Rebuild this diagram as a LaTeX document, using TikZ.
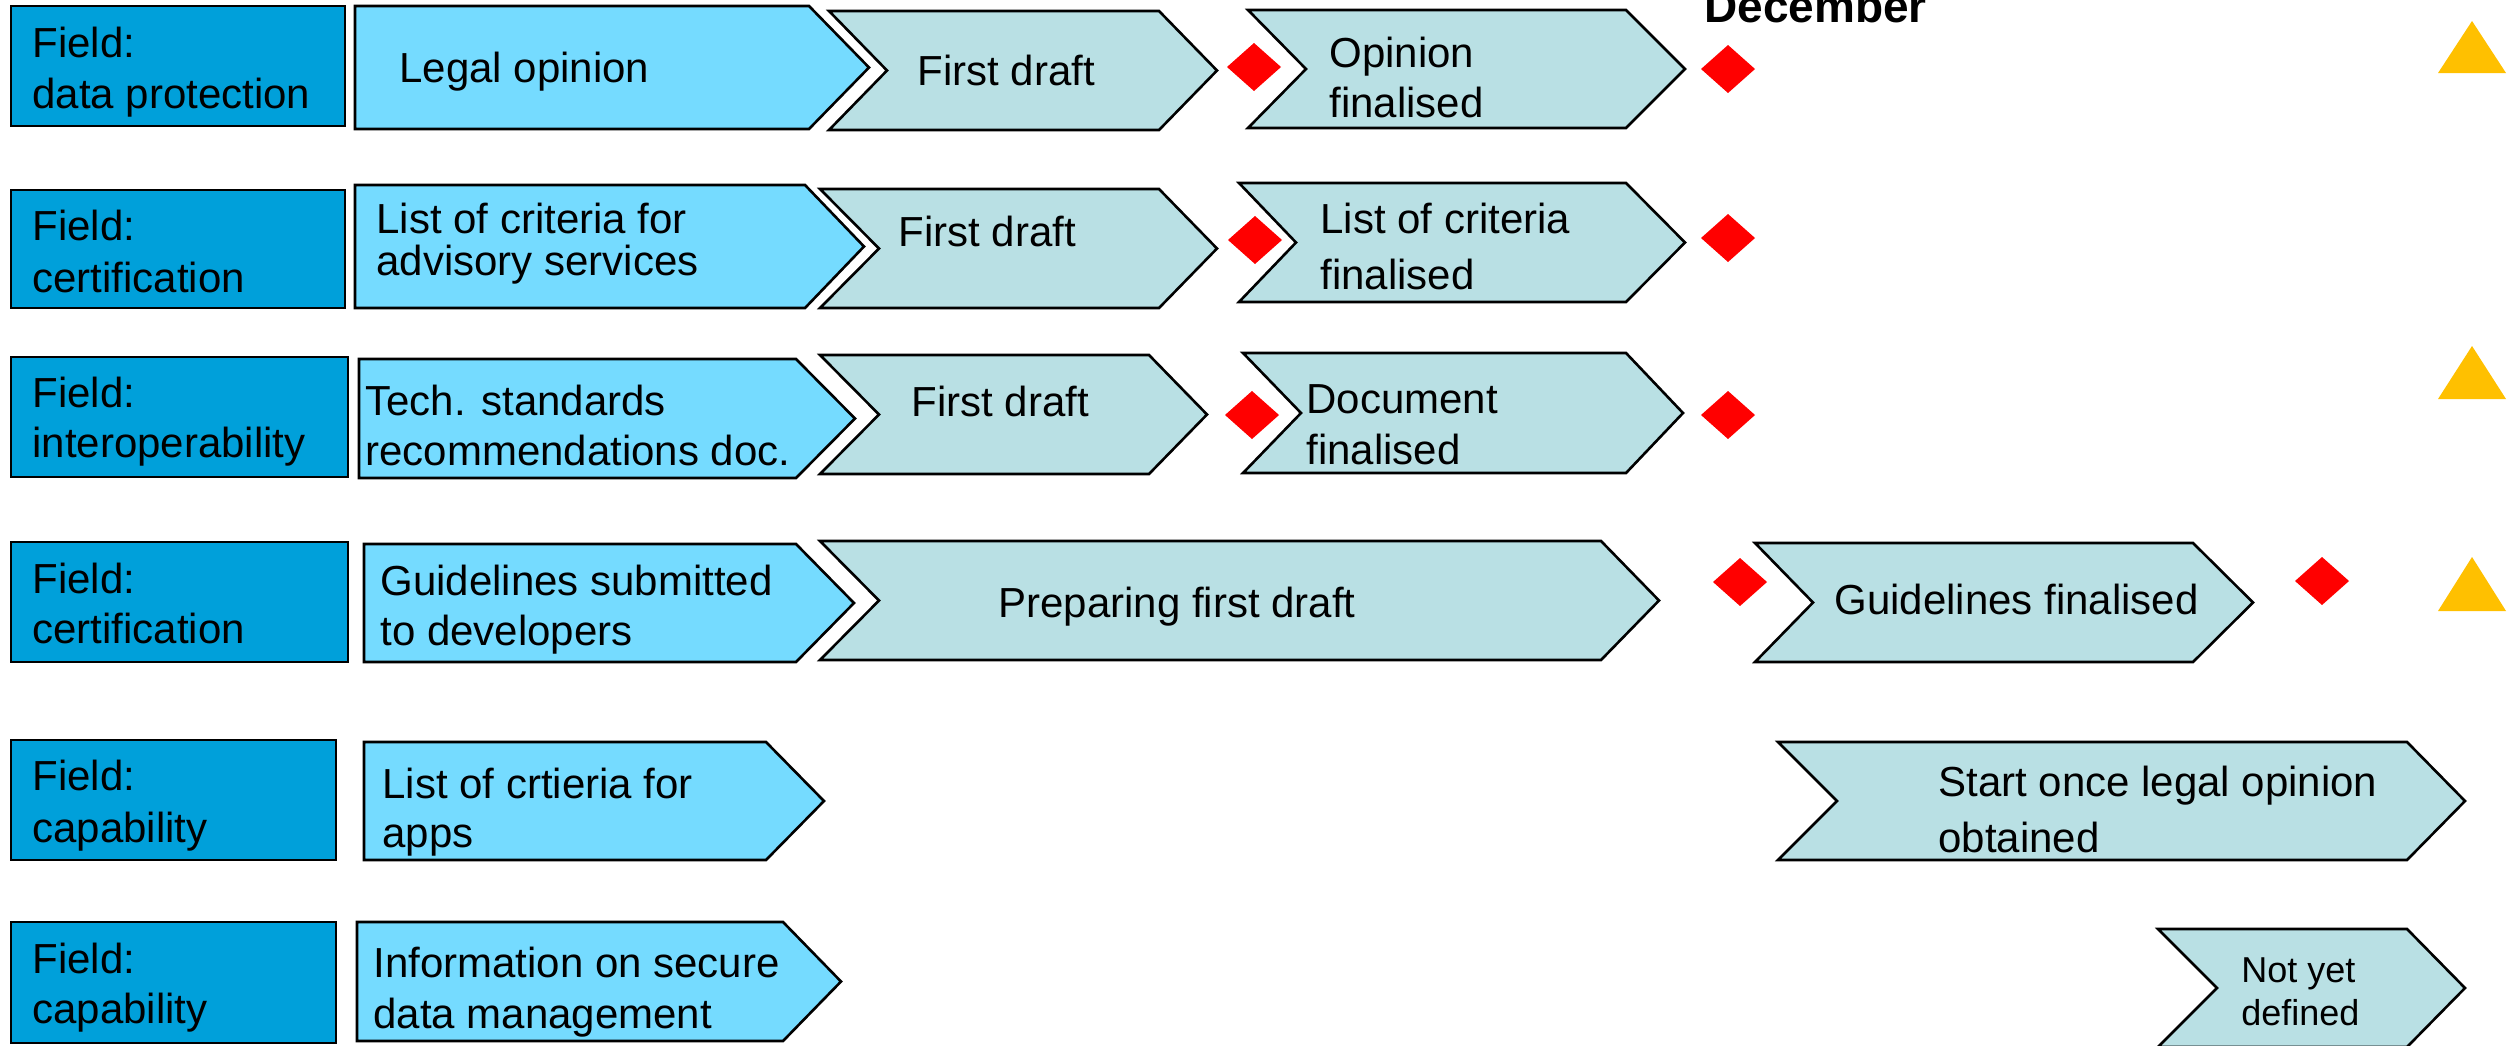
\documentclass[tikz,border=0pt]{standalone}
\usepackage{fontspec}
\setmainfont{Liberation Sans}
\definecolor{fieldblue}{RGB}{0,160,218}
\definecolor{lightblue}{RGB}{117,219,255}
\definecolor{paleteal}{RGB}{185,224,228}
\definecolor{goldyellow}{RGB}{255,192,0}
\tikzset{
  fieldbox/.style={draw=black, line width=1.3pt, fill=fieldblue},
  startchev/.style={draw=black, line width=1.3pt, fill=lightblue, line join=miter},
  phasechev/.style={draw=black, line width=1.3pt, fill=paleteal, line join=miter},
  milestone/.style={fill=red},
  goal/.style={fill=goldyellow},
  lbl/.style={anchor=base west, inner sep=0pt, font=\fontsize{21}{26}\selectfont},
  smalllbl/.style={anchor=base west, inner sep=0pt, font=\fontsize{18}{22}\selectfont},
  titlelbl/.style={anchor=base west, inner sep=0pt, font=\fontsize{23}{28}\selectfont\bfseries},
}
% x1 = left, x2 = flat end, x3 = tip, y top, y bottom
\newcommand\homeplate[5]{%
  \draw[startchev] (#1,#4) -- (#2,#4) -- (#3,{(#4+#5)/2}) -- (#2,#5) -- (#1,#5) -- cycle;}
% xleft, xnotch, xflat, xtip, ytop, ybottom
\newcommand\phasechevron[6]{%
  \draw[phasechev] (#1,#5) -- (#3,#5) -- (#4,{(#5+#6)/2}) -- (#3,#6) -- (#1,#6) -- (#2,{(#5+#6)/2}) -- cycle;}
\newcommand\milestonemark[2]{%
  \fill[milestone] ({#1-27},#2) -- (#1,{#2-24}) -- ({#1+27},#2) -- (#1,{#2+24}) -- cycle;}
\newcommand\goalmark[3]{%
  \fill[goal] (#1,#3) -- ({#1+68},#3) -- ({#1+34},#2) -- cycle;}
\begin{document}
\begin{tikzpicture}[x=0.5pt,y=-0.5pt]
\useasboundingbox (0,0) rectangle (2509,1045);
\clip (0,0) rectangle (2509,1045);
\fill[white] (0,0) rectangle (2509,1045);

% ---------- Row 1 ----------
\draw[fieldbox] (11,6) rectangle (345,126);
\homeplate{355}{809}{869}{6}{129}
\phasechevron{829}{887}{1159}{1217}{11}{130}
\milestonemark{1254}{67}
\phasechevron{1248}{1306}{1626}{1685}{10}{128}
\milestonemark{1728}{69}
\goalmark{2438}{21}{73}
\node[lbl] (f1a) at (32,57) {Field:};
\node[lbl] (f1b) at (32,108) {data protection};
\node[lbl] (s1) at (399,82) {Legal opinion};
\node[lbl] (p1a) at (917,85) {First draft};
\node[lbl] (p1b) at (1329,67) {Opinion};
\node[lbl] (p1c) at (1329,117) {finalised};
\node[titlelbl] (dec) at (1704,22) {December};

% ---------- Row 2 ----------
\draw[fieldbox] (11,190) rectangle (345,308);
\homeplate{355}{805}{864}{185}{308}
\phasechevron{820}{879}{1159}{1217}{189}{308}
\milestonemark{1255}{240}
\phasechevron{1239}{1296}{1626}{1685}{183}{302}
\milestonemark{1728}{238}
\node[lbl] (f2a) at (32,240) {Field:};
\node[lbl] (f2b) at (32,292) {certification};
\node[lbl] (s2a) at (376,233) {List of criteria for};
\node[lbl] (s2b) at (376,275) {advisory services};
\node[lbl] (p2a) at (898,246) {First draft};
\node[lbl] (p2b) at (1320,233) {List of criteria};
\node[lbl] (p2c) at (1320,289) {finalised};

% ---------- Row 3 ----------
\draw[fieldbox] (11,357) rectangle (348,477);
\homeplate{359}{796}{855}{359}{478}
\phasechevron{820}{879}{1149}{1207}{355}{474}
\milestonemark{1252}{415}
\phasechevron{1243}{1301}{1626}{1683}{353}{473}
\milestonemark{1728}{415}
\goalmark{2438}{346}{399}
\node[lbl] (f3a) at (32,407) {Field:};
\node[lbl] (f3b) at (32,457) {interoperability};
\node[lbl] (s3a) at (365,415) {Tech. standards};
\node[lbl] (s3b) at (365,465) {recommendations doc.};
\node[lbl] (p3a) at (911,416) {First draft};
\node[lbl] (p3b) at (1306,413) {Document};
\node[lbl] (p3c) at (1306,464) {finalised};

% ---------- Row 4 ----------
\draw[fieldbox] (11,542) rectangle (348,662);
\homeplate{364}{796}{854}{544}{662}
\phasechevron{820}{879}{1601}{1659}{541}{660}
\milestonemark{1740}{582}
\phasechevron{1755}{1813}{2193}{2253}{543}{662}
\milestonemark{2322}{581}
\goalmark{2438}{557}{611}
\node[lbl] (f4a) at (32,593) {Field:};
\node[lbl] (f4b) at (32,643) {certification};
\node[lbl] (s4a) at (380,595) {Guidelines submitted};
\node[lbl] (s4b) at (380,645) {to developers};
\node[lbl] (p4a) at (998,617) {Preparing first draft};
\node[lbl] (p4b) at (1834,614) {Guidelines finalised};

% ---------- Row 5 ----------
\draw[fieldbox] (11,740) rectangle (336,860);
\homeplate{364}{766}{824}{742}{860}
\phasechevron{1778}{1837}{2407}{2465}{742}{860}
\node[lbl] (f5a) at (32,790) {Field:};
\node[lbl] (f5b) at (32,842) {capability};
\node[lbl] (s5a) at (382,798) {List of crtieria for};
\node[lbl] (s5b) at (382,847) {apps};
\node[lbl] (p5a) at (1938,796) {Start once legal opinion};
\node[lbl] (p5b) at (1938,852) {obtained};

% ---------- Row 6 ----------
\draw[fieldbox] (11,922) rectangle (336,1043);
\homeplate{357}{783}{841}{922}{1041}
\phasechevron{2158}{2217}{2407}{2465}{929}{1047}
\node[lbl] (f6a) at (32,973) {Field:};
\node[lbl] (f6b) at (32,1023) {capability};
\node[lbl] (s6a) at (373,977) {Information on secure};
\node[lbl] (s6b) at (373,1028) {data management};
\node[smalllbl] (p6a) at (2241,982) {Not yet};
\node[smalllbl] (p6b) at (2241,1025) {defined};
\end{tikzpicture}
\end{document}
